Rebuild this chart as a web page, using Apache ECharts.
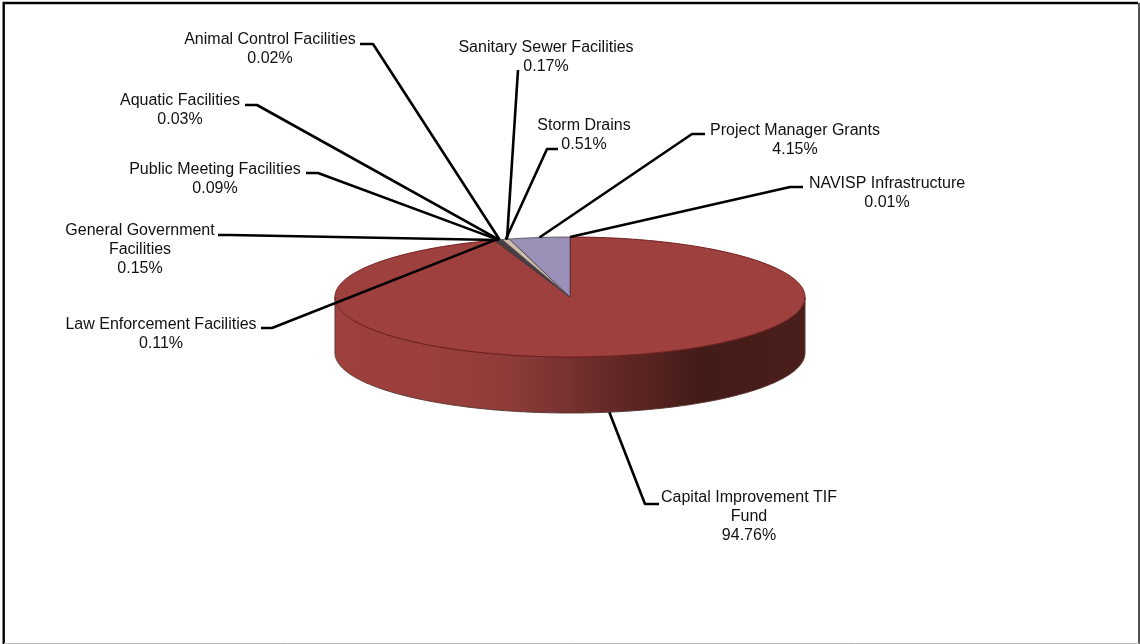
<!DOCTYPE html>
<html>
<head>
<meta charset="utf-8">
<style>html,body{margin:0;padding:0;background:#fff}#chart{width:1140px;height:644px}</style>
<script src="https://cdn.jsdelivr.net/npm/echarts@6/dist/echarts.min.js"></script>
</head>
<body>
<div id="chart"></div>
<script>
// ---- data, clockwise from 12 o'clock ----
const categories = ['NAVISP Infrastructure', 'Capital Improvement TIF\nFund', 'Law Enforcement Facilities',
  'General Government\nFacilities', 'Public Meeting Facilities', 'Aquatic Facilities',
  'Animal Control Facilities', 'Sanitary Sewer Facilities', 'Storm Drains', 'Project Manager Grants'];
const shares = [0.01, 94.76, 0.11, 0.15, 0.09, 0.03, 0.02, 0.17, 0.51, 4.15];

// ---- styling and layout ----
const sliceColors = ['#8c7f9f', '#9E413E', '#3a2422', '#2e2220', '#3a2c2a', '#3a2c2a', '#3a2c2a', '#4a3c3a', '#CDBDAB', '#9B90B8'];
const labelCenterX = [887, 749, 161, 140, 215, 180, 270, 546, 584, 795];
const labelTopY = [174, 488.5, 315, 221.5, 160, 91, 30, 38, 116, 121];
const elbowFrom = [[803, 187], [659, 504], [261, 328], [218, 235], [306, 173], [245, 105], [360, 44], [518, 70], [558, 149], [705, 134]];
const elbowAt = [[790, 187], [645, 504], [272, 328], [230, 235], [318, 173], [257, 105], [373, 44], [518, 70], [547, 149], [692, 134]];
const anchorNudgeX = [0, 1, 0, 0, 0, 0, 0, 6, 0, 0];
const pie = { cx: 570, cy: 297, rx: 235, ry: 60, depth: 56 };
const font = '16px "Liberation Sans", Arial, sans-serif';

const total = shares.reduce((a, b) => a + b, 0);
function startShare(i) { let s = 0; for (let k = 0; k < i; k++) s += shares[k]; return s; }
const toAngle = s => s / total * Math.PI * 2;
const rim = (t, dy) => [pie.cx + pie.rx * Math.sin(t), pie.cy - pie.ry * Math.cos(t) + (dy || 0)];
function arc(a, b, dy) {
  const n = Math.max(2, Math.ceil((b - a) / 0.01)), pts = [];
  for (let i = 0; i <= n; i++) pts.push(rim(a + (b - a) * i / n, dy));
  return pts;
}
const data = shares.map((v, i) => [i, v]);

const wallGradient = new echarts.graphic.LinearGradient(0, 0, 1, 0, [
  { offset: 0, color: '#9E413E' }, { offset: 0.2, color: '#9A3F3C' }, { offset: 0.36, color: '#8F3C39' },
  { offset: 0.5, color: '#763130' }, { offset: 0.62, color: '#5F2623' }, { offset: 0.78, color: '#431B18' }, { offset: 1, color: '#4A1E1B' }
]);

function renderWall(params, api) {
  const i = api.value(0), a = toAngle(startShare(i)), b = a + toAngle(api.value(1));
  const lo = Math.max(a, Math.PI / 2), hi = Math.min(b, Math.PI * 1.5);
  if (hi <= lo) return { type: 'group', children: [] };
  const bottom = arc(lo, hi, pie.depth), top = arc(lo, hi, 0).reverse();
  return { type: 'polygon', silent: true, shape: { points: bottom.concat(top) },
    style: { fill: wallGradient, stroke: '#5a3836', lineWidth: 1 } };
}
function renderTop(params, api) {
  const i = api.value(0), a = toAngle(startShare(i)), b = a + toAngle(api.value(1));
  return { type: 'polygon', silent: true, shape: { points: [[pie.cx, pie.cy]].concat(arc(a, b, 0)) },
    style: { fill: sliceColors[i], stroke: i === 1 ? '#6e1a1a' : '#4a4048', lineWidth: i === 1 ? 1 : 0.8, lineJoin: 'round' } };
}
function renderLabel(params, api) {
  const i = api.value(0), v = api.value(1);
  const mid = toAngle(startShare(i) + v / 2);
  const pt = rim(mid, Math.cos(mid) < 0 && v > 50 ? pie.depth : 0);
  const anchor = [pt[0] + anchorNudgeX[i], pt[1]];
  return { type: 'group', silent: true, children: [
    { type: 'polyline', shape: { points: [elbowFrom[i], elbowAt[i], anchor] },
      style: { fill: null, stroke: '#000', lineWidth: 2.6, lineJoin: 'round' } },
    { type: 'text', style: { text: categories[i] + '\n' + v.toFixed(2) + '%', x: labelCenterX[i], y: labelTopY[i],
      textAlign: 'center', textVerticalAlign: 'top', font: font, lineHeight: 18.8, fill: '#111' } }
  ] };
}
const base = { type: 'custom', coordinateSystem: 'none', data: data, animation: false, silent: true };
const chart = echarts.init(document.getElementById('chart'), null, { renderer: 'canvas' });
chart.setOption({
  animation: false,
  backgroundColor: '#fff',
  graphic: [
    { type: 'polyline', silent: true, z: 1, shape: { points: [[3.7, 644], [3.7, 3], [1138, 3]] },
      style: { fill: null, stroke: '#000', lineWidth: 2.4 } },
    { type: 'polyline', silent: true, z: 1, shape: { points: [[1139, 3], [1139, 644]] },
      style: { fill: null, stroke: '#555', lineWidth: 2 } },
    { type: 'polyline', silent: true, z: 1, shape: { points: [[4, 643.5], [1139, 643.5]] },
      style: { fill: null, stroke: '#bbb', lineWidth: 1 } }
  ],
  series: [
    Object.assign({}, base, { renderItem: renderWall, z: 2 }),
    Object.assign({}, base, { renderItem: renderTop, z: 3 }),
    Object.assign({}, base, { renderItem: renderLabel, z: 4 })
  ]
});
</script>
</body>
</html>
